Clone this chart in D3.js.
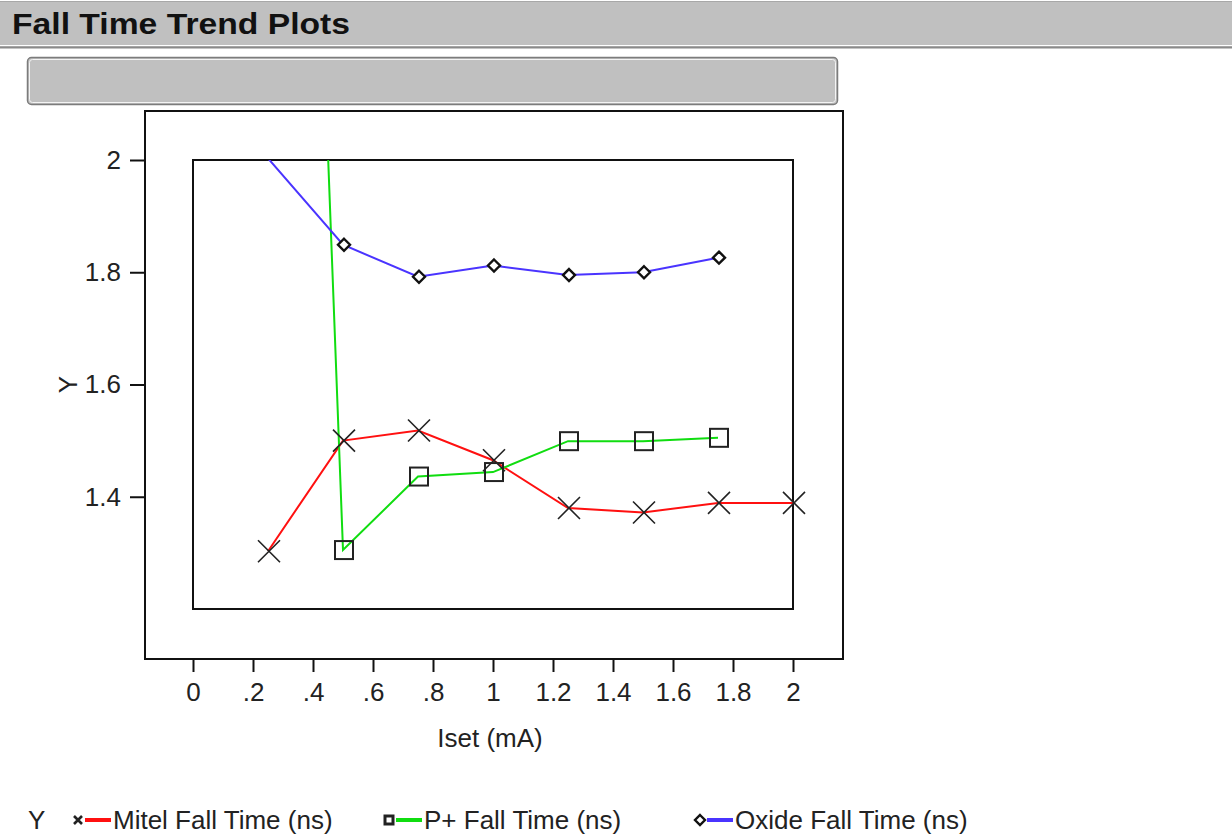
<!DOCTYPE html>
<html><head><meta charset="utf-8">
<script src="https://cdn.jsdelivr.net/npm/d3@7"></script>
<style>
html,body{margin:0;padding:0;background:#fff;}
svg{display:block;font-family:"Liberation Sans",Arial,sans-serif;}
</style></head>
<body>
<svg id="chart" width="1232" height="836"></svg>
<script>
// ---- data ----
const title = "Fall Time Trend Plots";
const xTitle = "Iset (mA)";
const yTitle = "Y";
const xValues = [0.25, 0.5, 0.75, 1.0, 1.25, 1.5, 1.75, 2.0];
const mitelValues = [1.303, 1.50, 1.518, 1.465, 1.38, 1.372, 1.389, 1.389];
const pplusXValues = [0.25, 0.5, 0.75, 1.0, 1.25, 1.5, 1.75];
const pplusValues = [4.83, 1.305, 1.436, 1.444, 1.499, 1.499, 1.505];
const oxideXValues = [0.25, 0.5, 0.75, 1.0, 1.25, 1.5, 1.75];
const oxideValues = [2.003, 1.849, 1.792, 1.812, 1.795, 1.80, 1.826];
const seriesNames = ["Mitel Fall Time (ns)", "P+ Fall Time (ns)", "Oxide Fall Time (ns)"];
const seriesColors = ["#ff1010", "#10dd10", "#4a34ff"];
const seriesMarkers = ["x", "square", "diamond"];
const xTickValues = [0, 0.2, 0.4, 0.6, 0.8, 1, 1.2, 1.4, 1.6, 1.8, 2];
const xTickLabels = ["0", ".2", ".4", ".6", ".8", "1", "1.2", "1.4", "1.6", "1.8", "2"];
const yTickValues = [1.4, 1.6, 1.8, 2];
const yTickLabels = ["1.4", "1.6", "1.8", "2"];

const series = [
  {name: seriesNames[0], color: seriesColors[0], marker: seriesMarkers[0], pts: xValues.map((x,i)=>({x, y: mitelValues[i]}))},
  {name: seriesNames[1], color: seriesColors[1], marker: seriesMarkers[1], pts: pplusXValues.map((x,i)=>({x, y: pplusValues[i]}))},
  {name: seriesNames[2], color: seriesColors[2], marker: seriesMarkers[2], pts: oxideXValues.map((x,i)=>({x, y: oxideValues[i]}))}
];

// ---- layout ----
const svg = d3.select("#chart");
const inner = {l: 193, r: 793, t: 160, b: 609};
const frame = {l: 145, r: 843, t: 111, b: 659};
const x = d3.scaleLinear().domain([0, 2]).range([inner.l, inner.r]);
const y = d3.scaleLinear().domain([1.2, 2]).range([inner.b, inner.t]);
const FONT = 26;

// title bar
svg.append("rect").attr("x",0).attr("y",1).attr("width",1232).attr("height",46).attr("fill","#c0c0c0");
svg.append("line").attr("x1",0).attr("x2",1232).attr("y1",1.5).attr("y2",1.5).attr("stroke","#a8a8a8").attr("stroke-width",1);
svg.append("line").attr("x1",0).attr("x2",1232).attr("y1",45.5).attr("y2",45.5).attr("stroke","#ffffff").attr("stroke-width",1);
svg.append("line").attr("x1",0).attr("x2",1232).attr("y1",47.5).attr("y2",47.5).attr("stroke","#8a8a8a").attr("stroke-width",2);
svg.append("text").attr("x",12).attr("y",34).attr("font-size",30).attr("font-weight","bold")
  .attr("textLength",338).attr("lengthAdjust","spacingAndGlyphs").attr("fill","#111").text(title);

// gray sub-box
svg.append("rect").attr("x",27.5).attr("y",57.5).attr("width",810).attr("height",47).attr("rx",4)
  .attr("fill","#c0c0c0").attr("stroke","#7c7c7c").attr("stroke-width",1.5);
svg.append("rect").attr("x",29.5).attr("y",59.5).attr("width",806).attr("height",43).attr("rx",3)
  .attr("fill","none").attr("stroke","#f4f4f4").attr("stroke-width",1);

// clip
svg.append("clipPath").attr("id","clipInner").append("rect")
  .attr("x",inner.l).attr("y",inner.t).attr("width",inner.r-inner.l).attr("height",inner.b-inner.t);

// frames
svg.append("rect").attr("x",frame.l).attr("y",frame.t).attr("width",frame.r-frame.l).attr("height",frame.b-frame.t)
  .attr("fill","none").attr("stroke","#111").attr("stroke-width",2);
svg.append("rect").attr("x",inner.l).attr("y",inner.t).attr("width",inner.r-inner.l).attr("height",inner.b-inner.t)
  .attr("fill","none").attr("stroke","#111").attr("stroke-width",2);

// axes
const yAxis = d3.axisLeft(y).tickValues(yTickValues).tickSize(15).tickPadding(9)
  .tickFormat((d,i)=>yTickLabels[i]);
const gy = svg.append("g").attr("transform",`translate(${frame.l},0)`).call(yAxis);
const xAxis = d3.axisBottom(x).tickValues(xTickValues).tickSize(13).tickPadding(11)
  .tickFormat((d,i)=>xTickLabels[i]);
const gx = svg.append("g").attr("transform",`translate(0,${frame.b})`).call(xAxis);
[gx, gy].forEach(g=>{
  g.select(".domain").remove();
  g.selectAll(".tick line").attr("stroke","#111").attr("stroke-width",2);
  g.selectAll(".tick text").attr("font-size",FONT).attr("fill","#222").attr("font-family","Liberation Sans, Arial, sans-serif");
});

svg.append("text").attr("x",(inner.l+inner.r)/2-3).attr("y",747).attr("text-anchor","middle")
  .attr("font-size",FONT).attr("fill","#222").text(xTitle);
svg.append("text").attr("transform",`translate(77,${y(1.6)}) rotate(-90)`).attr("text-anchor","middle")
  .attr("font-size",FONT).attr("fill","#222").text(yTitle);

// lines
const line = d3.line().x(d=>x(d.x)).y(d=>y(d.y));
const plot = svg.append("g").attr("clip-path","url(#clipInner)");
series.forEach(s=>{
  plot.append("path").attr("d",line(s.pts)).attr("fill","none").attr("stroke",s.color).attr("stroke-width",2);
});

// markers
function drawMarker(g, type, cx, cy, size, sw) {
  if (type === "x") {
    g.append("path").attr("d",`M${cx-size},${cy-size}L${cx+size},${cy+size}M${cx-size},${cy+size}L${cx+size},${cy-size}`)
      .attr("stroke","#222").attr("stroke-width",sw).attr("fill","none");
  } else if (type === "square") {
    g.append("rect").attr("x",cx-size).attr("y",cy-size).attr("width",2*size).attr("height",2*size)
      .attr("stroke","#222").attr("stroke-width",sw).attr("fill","none");
  } else {
    g.append("path").attr("d",`M${cx},${cy-size}L${cx+size},${cy}L${cx},${cy+size}L${cx-size},${cy}Z`)
      .attr("stroke","#111").attr("stroke-width",sw).attr("fill","#fff");
  }
}
const mk = svg.append("g");
const mSize = {x: 11, square: 9, diamond: 6};
const mSw = {x: 1.6, square: 2, diamond: 2.4};
series.forEach(s=>{
  s.pts.filter(p=>p.y <= y.domain()[1] && p.y >= y.domain()[0]).forEach(p=>{
    drawMarker(mk, s.marker, x(p.x)+1, y(p.y), mSize[s.marker], mSw[s.marker]);
  });
});

// legend
const legY = 820;
svg.append("text").attr("x",28).attr("y",legY+9).attr("font-size",FONT).attr("fill","#222").text("Y");
const legX = [78, 389, 700];
series.forEach((s,i)=>{
  const lx = legX[i];
  const lg = svg.append("g");
  if (s.marker === "x") drawMarker(lg, "x", lx, legY, 4, 2.6);
  else if (s.marker === "square") drawMarker(lg, "square", lx, legY, 4, 3);
  else drawMarker(lg, "diamond", lx, legY, 5, 2.4);
  lg.append("line").attr("x1",lx+7).attr("x2",lx+33).attr("y1",legY).attr("y2",legY)
    .attr("stroke",s.color).attr("stroke-width",4);
  lg.append("text").attr("x",lx+35).attr("y",legY+9).attr("font-size",FONT).attr("fill","#222").text(s.name);
});
</script>
</body></html>
